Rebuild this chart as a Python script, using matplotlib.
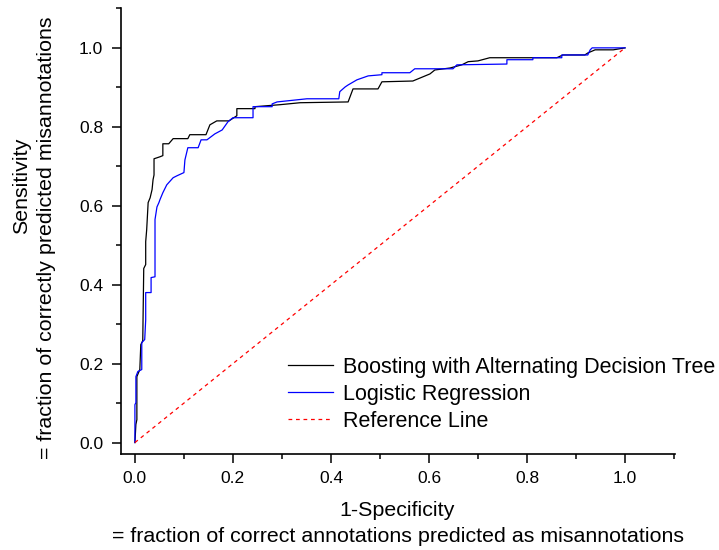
import matplotlib
matplotlib.use("Agg")
import matplotlib.pyplot as plt
from matplotlib.ticker import MultipleLocator

plt.rcParams['font.family'] = ['Liberation Sans', 'DejaVu Sans']

# Boosting with Alternating Decision Tree (ROC vertices)
boost_fpr = [0.0, 0.002, 0.004, 0.004, 0.010, 0.012, 0.016, 0.018, 0.022, 0.022, 0.024, 0.027,
             0.031, 0.035, 0.037, 0.039, 0.039, 0.051, 0.057, 0.057, 0.069, 0.078, 0.108, 0.112,
             0.145, 0.153, 0.167, 0.192, 0.208, 0.208, 0.245, 0.245, 0.296, 0.337, 0.435, 0.445,
             0.496, 0.504, 0.567, 0.602, 0.612, 0.643, 0.667, 0.680, 0.700, 0.724, 0.861, 0.873,
             0.918, 0.924, 0.939, 0.976, 1.0]
boost_tpr = [0.0, 0.046, 0.058, 0.167, 0.185, 0.248, 0.258, 0.441, 0.451, 0.509, 0.539, 0.608,
             0.620, 0.641, 0.666, 0.678, 0.719, 0.724, 0.727, 0.757, 0.757, 0.770, 0.770, 0.780,
             0.780, 0.805, 0.815, 0.815, 0.828, 0.846, 0.846, 0.851, 0.856, 0.861, 0.863, 0.896,
             0.896, 0.914, 0.916, 0.934, 0.944, 0.949, 0.957, 0.965, 0.967, 0.975, 0.975, 0.982,
             0.982, 0.987, 0.995, 0.995, 1.0]

# Logistic Regression (ROC vertices)
lr_fpr = [0.0, 0.0, 0.002, 0.002, 0.006, 0.014, 0.014, 0.020, 0.022, 0.022, 0.033, 0.033,
          0.041, 0.041, 0.045, 0.049, 0.051, 0.057, 0.065, 0.078, 0.086, 0.100, 0.102, 0.108,
          0.129, 0.135, 0.147, 0.163, 0.178, 0.190, 0.200, 0.241, 0.241, 0.280, 0.280, 0.290,
          0.351, 0.416, 0.418, 0.429, 0.435, 0.453, 0.476, 0.504, 0.504, 0.561, 0.571, 0.649,
          0.657, 0.759, 0.759, 0.812, 0.812, 0.871, 0.871, 0.924, 0.929, 0.933, 1.0]
lr_tpr = [0.0, 0.096, 0.101, 0.167, 0.180, 0.185, 0.253, 0.261, 0.311, 0.380, 0.380, 0.418,
          0.420, 0.565, 0.597, 0.608, 0.615, 0.633, 0.653, 0.671, 0.676, 0.684, 0.716, 0.747,
          0.747, 0.767, 0.767, 0.782, 0.792, 0.813, 0.823, 0.823, 0.851, 0.851, 0.858, 0.863,
          0.871, 0.871, 0.889, 0.901, 0.906, 0.919, 0.929, 0.932, 0.937, 0.937, 0.947, 0.947,
          0.957, 0.959, 0.970, 0.970, 0.975, 0.975, 0.982, 0.982, 0.995, 1.0, 1.0]

ref_x = [0.0, 1.0]
ref_y = [0.0, 1.0]

labels = ["Boosting with Alternating Decision Tree", "Logistic Regression", "Reference Line"]

W, H = 719, 550
fig = plt.figure(figsize=(W / 100, H / 100), dpi=100)
ax = fig.add_axes([120.7 / W, 1 - 454 / H, (675 - 120.7) / W, (454 - 8) / H])

ax.plot(boost_fpr, boost_tpr, color='black', lw=0.9, label=labels[0])
ax.plot(lr_fpr, lr_tpr, color='#0000ff', lw=0.9, label=labels[1])
ax.plot(ref_x, ref_y, color='#ff0000', lw=0.9, linestyle=(0, (3, 3)), label=labels[2])

ax.set_xlim(-0.029, 1.102)
ax.set_ylim(-0.029, 1.101)
ax.xaxis.set_major_locator(MultipleLocator(0.2))
ax.xaxis.set_minor_locator(MultipleLocator(0.1))
ax.yaxis.set_major_locator(MultipleLocator(0.2))
ax.yaxis.set_minor_locator(MultipleLocator(0.1))
ax.xaxis.set_major_formatter(plt.FormatStrFormatter('%.1f'))
ax.yaxis.set_major_formatter(plt.FormatStrFormatter('%.1f'))
ax.tick_params(which='major', direction='out', length=6.5, width=1.1, labelsize=12.5, pad=6)
ax.tick_params(which='minor', direction='out', length=3.6, width=1.1)
for s in ['top', 'right']:
    ax.spines[s].set_visible(False)
for s in ['left', 'bottom']:
    ax.spines[s].set_linewidth(1.2)

leg = ax.legend(loc='upper left', bbox_to_anchor=(288 / W, 1 - 357 / H),
                bbox_transform=fig.transFigure, frameon=False, fontsize=15.5,
                handlelength=2.1, handletextpad=0.45, labelspacing=0.27,
                borderpad=0, borderaxespad=0)

fs = 15.4
fig.text(397.5 / W, 1 - 510 / H, "1-Specificity", ha='center', va='center', fontsize=fs)
fig.text(397.5 / W, 1 - 537 / H, "= fraction of correct annotations predicted as misannotations",
         ha='center', va='center', fontsize=fs)
fig.text(22 / W, 1 - 186 / H, "Sensitivity", ha='center', va='center', rotation=90, fontsize=fs)
fig.text(47 / W, 1 - 238 / H, "= fraction of correctly predicted misannotations",
         ha='center', va='center', rotation=90, fontsize=fs)

fig.savefig("out.png", dpi=100)
